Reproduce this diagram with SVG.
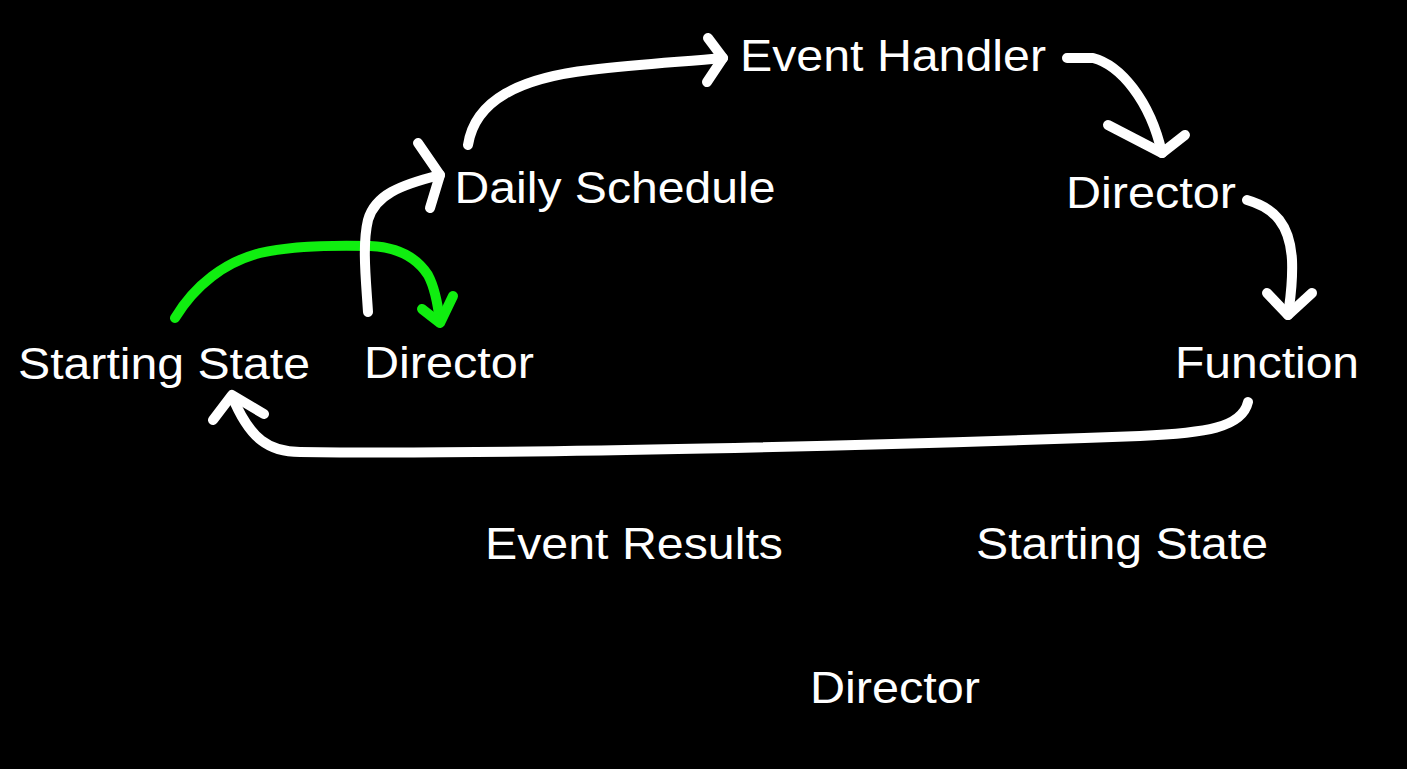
<svg xmlns="http://www.w3.org/2000/svg" width="1407" height="769" viewBox="0 0 1407 769">
<style>
.lbl{font-family:"Liberation Sans",Arial,sans-serif;font-size:45px;fill:#ffffff;text-anchor:middle}
.w{fill:none;stroke:#ffffff;stroke-width:10;stroke-linecap:round;stroke-linejoin:round}
.g{fill:none;stroke:#10ee10;stroke-width:10;stroke-linecap:round;stroke-linejoin:round}
</style>
<rect width="1407" height="769" fill="#000000"/>
<g id="connectors">
<path class="g" d="M175,318 C195,285 225,262 260,253 C290,246 330,245 370,246 C395,247 415,255 428,275 C435,288 438,305 440,322"/>
<path class="g" d="M422,309 L440,323 L453,296"/>
<path class="w" d="M368,312 C366,280 362,245 368,220 C375,195 400,185 440,175"/>
<path class="w" d="M418,143 L440,175 L430,208"/>
<path class="w" d="M468,145 C475,100 520,78 590,70 C640,64 680,62 723,58"/>
<path class="w" d="M708,38 L723,58 L707,82"/>
<path class="w" d="M1067,58 L1093,58 C1120,65 1150,100 1162,153"/>
<path class="w" d="M1108,125 L1162,153 L1185,135"/>
<path class="w" d="M1247,200 C1275,208 1290,225 1292,260 C1293,285 1290,300 1288,315"/>
<path class="w" d="M1267,293 L1288,315 L1312,293"/>
<path class="w" d="M1248,402 C1242,428 1205,433 1140,436 C900,445 500,455 300,452 C270,452 250,440 232,396"/>
<path class="w" d="M213,420 L232,395 L264,414"/>
</g>
<g id="n-event-handler"><text class="lbl" x="893" y="71" textLength="306" lengthAdjust="spacingAndGlyphs">Event Handler</text></g>
<g id="n-daily-schedule"><text class="lbl" x="615" y="203" textLength="321" lengthAdjust="spacingAndGlyphs">Daily Schedule</text></g>
<g id="n-director-right"><text class="lbl" x="1151" y="208" textLength="170" lengthAdjust="spacingAndGlyphs">Director</text></g>
<g id="n-starting-state-left"><text class="lbl" x="164" y="379" textLength="292" lengthAdjust="spacingAndGlyphs">Starting State</text></g>
<g id="n-director-left"><text class="lbl" x="449" y="378" textLength="170" lengthAdjust="spacingAndGlyphs">Director</text></g>
<g id="n-function"><text class="lbl" x="1267" y="378" textLength="184" lengthAdjust="spacingAndGlyphs">Function</text></g>
<g id="n-event-results"><text class="lbl" x="634" y="559" textLength="298" lengthAdjust="spacingAndGlyphs">Event Results</text></g>
<g id="n-starting-state-right"><text class="lbl" x="1122" y="559" textLength="292" lengthAdjust="spacingAndGlyphs">Starting State</text></g>
<g id="n-director-bottom"><text class="lbl" x="895" y="703" textLength="170" lengthAdjust="spacingAndGlyphs">Director</text></g>
</svg>
